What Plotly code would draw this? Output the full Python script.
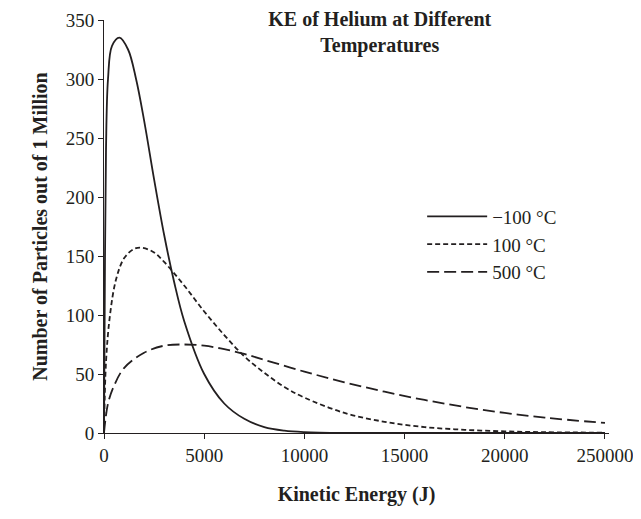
import plotly.graph_objects as go

ke_cold = [0, 50, 100, 200, 400, 770, 1200, 1600, 2000, 2500, 3000, 3500, 4000, 5000, 6000, 7000, 8000, 9000, 10000, 12000, 15000, 25000]
n_cold = [0, 150, 240, 300, 328, 335, 325, 300, 265, 215, 168, 128, 95, 50, 25, 12, 5, 2, 0.8, 0.1, 0, 0]

ke_mid = [0, 100, 300, 600, 1000, 1500, 1900, 2500, 3000, 4000, 5000, 6000, 7000, 8000, 9000, 10000, 12000, 14000, 16000, 18000, 20000, 22000, 25000]
n_mid = [0, 60, 100, 130, 148, 156, 157, 153, 145, 125, 103, 83, 65, 51, 39, 30, 17, 9.5, 5, 2.7, 1.4, 0.7, 0.3]

ke_hot = [0, 200, 500, 1000, 2000, 3000, 4000, 5000, 6000, 7000, 8000, 10000, 12000, 14000, 16000, 18000, 20000, 22000, 25000]
n_hot = [0, 25, 40, 55, 68, 74, 75, 74, 71, 67, 62, 52, 43, 35, 28, 22, 17, 13, 8.5]

x_ticks = [0, 5000, 10000, 15000, 20000, 25000]
x_tick_text = ["0", "5000", "10000", "15000", "20000", "250000"]

FONT = "Liberation Serif"
line = dict(color="#231f20", width=1.8)

fig = go.Figure()
fig.add_trace(go.Scatter(x=ke_cold, y=n_cold, mode="lines", name="\u2212100 \u00b0C",
                         line=dict(line, shape="spline")))
fig.add_trace(go.Scatter(x=ke_mid, y=n_mid, mode="lines", name="100 \u00b0C",
                         line=dict(line, shape="spline", dash="5px,3px")))
fig.add_trace(go.Scatter(x=ke_hot, y=n_hot, mode="lines", name="500 \u00b0C",
                         line=dict(line, shape="spline", dash="12px,5px")))

fig.update_layout(
    width=641, height=519,
    plot_bgcolor="white", paper_bgcolor="white",
    margin=dict(l=96, r=40, t=12, b=94, autoexpand=False),
    font=dict(family=FONT, size=19, color="#231f20"),
    title=dict(text="<b>KE of Helium at Different<br>Temperatures</b>", x=0.58, y=0.965,
               xanchor="center", font=dict(size=20)),
    legend=dict(x=0.63, y=0.57, xanchor="left", yanchor="top", bgcolor="rgba(0,0,0,0)",
                font=dict(size=19), itemwidth=60, tracegroupgap=2),
    xaxis=dict(range=[0, 25200], tickvals=x_ticks, ticktext=x_tick_text,
               ticklabeloverflow="allow",
               showgrid=False, zeroline=False, showline=True, linecolor="#231f20",
               ticks="outside", ticklen=5, tickcolor="#231f20",
               title=dict(text="<b>Kinetic Energy (J)</b>", standoff=22, font=dict(size=20))),
    yaxis=dict(range=[0, 350], dtick=50, showgrid=False, zeroline=False, showline=True,
               linecolor="#231f20", ticks="outside", ticklen=5, tickcolor="#231f20",
               title=dict(text="<b>Number of Particles out of 1 Million</b>", standoff=12,
                          font=dict(size=20))),
)

fig.write_html("out.html")
